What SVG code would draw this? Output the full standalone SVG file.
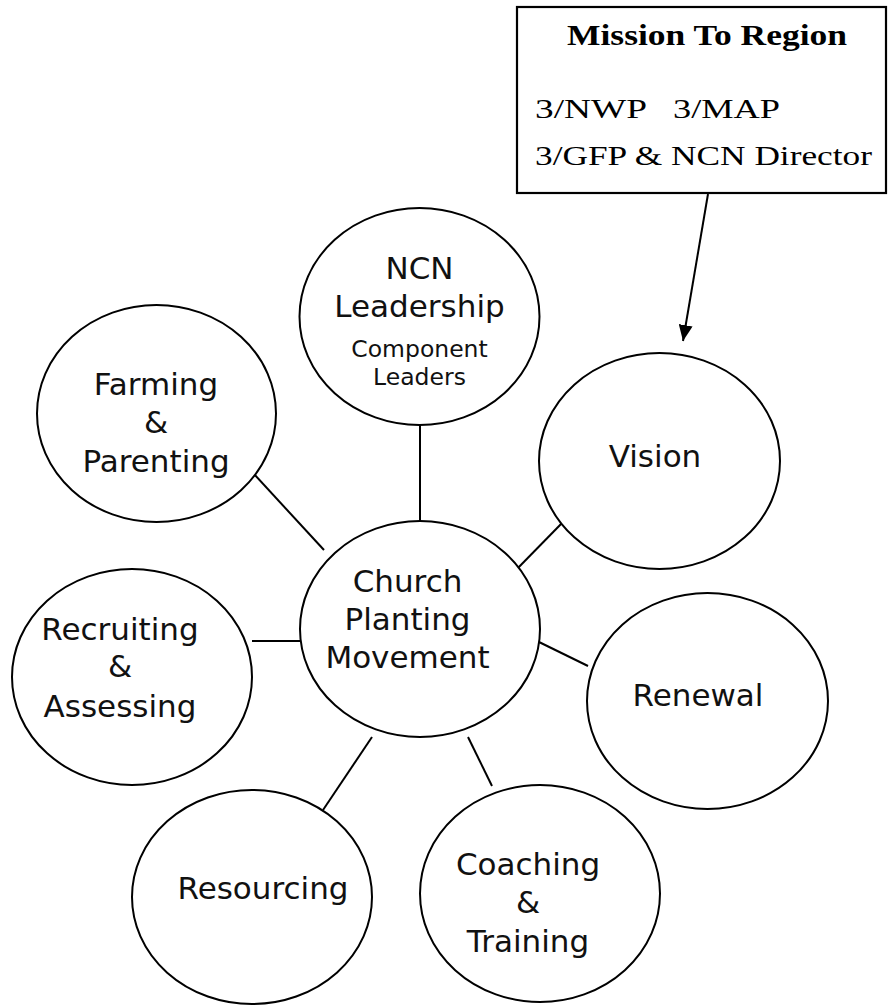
<svg xmlns="http://www.w3.org/2000/svg" width="888" height="1005" viewBox="0 0 888 1005">
<style>
.node{fill:#fff;stroke:#000;stroke-width:2}
.lbl{font-family:"DejaVu Sans","Liberation Sans",sans-serif;font-size:31px;fill:#111;text-anchor:middle}
.sm{font-size:23.5px}
.conn{stroke:#000;stroke-width:2;fill:none}
.ser{font-family:"Liberation Serif","Times New Roman",serif;fill:#000}
</style>
<defs>
<marker id="arrow" markerWidth="16" markerHeight="14" refX="16" refY="7" orient="auto" markerUnits="userSpaceOnUse">
<path d="M0,0 L16,7 L0,14 z" fill="#000"/>
</marker>
</defs>
<g id="mission">
<rect x="517" y="7" width="369" height="186" fill="#fff" stroke="#000" stroke-width="2.2"/>
<text class="ser" x="567" y="45" font-size="29" font-weight="bold" textLength="280" lengthAdjust="spacingAndGlyphs">Mission To Region</text>
<text class="ser" x="535" y="118" font-size="28" textLength="112" lengthAdjust="spacingAndGlyphs">3/NWP</text>
<text class="ser" x="673" y="118" font-size="28" textLength="107" lengthAdjust="spacingAndGlyphs">3/MAP</text>
<text class="ser" x="535" y="165" font-size="28" textLength="337" lengthAdjust="spacingAndGlyphs">3/GFP &amp; NCN Director</text>
</g>
<g id="connectors">
<line class="conn" x1="708" y1="194" x2="683" y2="341" marker-end="url(#arrow)"/>
<line class="conn" x1="420" y1="425" x2="420" y2="521"/>
<line class="conn" x1="253" y1="473" x2="324" y2="550"/>
<line class="conn" x1="516" y1="570" x2="563" y2="522"/>
<line class="conn" x1="539" y1="642" x2="588" y2="666"/>
<line class="conn" x1="252" y1="641" x2="300" y2="641"/>
<line class="conn" x1="372" y1="737" x2="323" y2="810"/>
<line class="conn" x1="468" y1="737" x2="492" y2="786"/>
</g>
<g id="ncn">
<ellipse class="node" cx="419.5" cy="316.5" rx="120" ry="108.5"/>
<text class="lbl" x="419.5" y="279">NCN</text>
<text class="lbl" x="419.5" y="317">Leadership</text>
<text class="lbl sm" x="419.5" y="357">Component</text>
<text class="lbl sm" x="419.5" y="385">Leaders</text>
</g>
<g id="farming">
<ellipse class="node" cx="156.5" cy="413.5" rx="119.5" ry="108.5"/>
<text class="lbl" x="156" y="395">Farming</text>
<text class="lbl" x="156" y="433">&amp;</text>
<text class="lbl" x="156" y="472">Parenting</text>
</g>
<g id="vision">
<ellipse class="node" cx="659.5" cy="461" rx="120.5" ry="108"/>
<text class="lbl" x="655" y="467">Vision</text>
</g>
<g id="center">
<ellipse class="node" cx="420" cy="629" rx="120" ry="108"/>
<text class="lbl" x="407.5" y="592">Church</text>
<text class="lbl" x="407.5" y="630">Planting</text>
<text class="lbl" x="407.5" y="668">Movement</text>
</g>
<g id="recruiting">
<ellipse class="node" cx="132" cy="677" rx="120" ry="108"/>
<text class="lbl" x="120" y="640">Recruiting</text>
<text class="lbl" x="120" y="677">&amp;</text>
<text class="lbl" x="120" y="717">Assessing</text>
</g>
<g id="renewal">
<ellipse class="node" cx="707.5" cy="701" rx="120.5" ry="108"/>
<text class="lbl" x="698" y="706">Renewal</text>
</g>
<g id="resourcing">
<ellipse class="node" cx="252" cy="897" rx="120" ry="107"/>
<text class="lbl" x="263" y="899">Resourcing</text>
</g>
<g id="coaching">
<ellipse class="node" cx="540" cy="893.5" rx="120" ry="108.5"/>
<text class="lbl" x="528" y="875">Coaching</text>
<text class="lbl" x="528" y="913">&amp;</text>
<text class="lbl" x="528" y="952">Training</text>
</g>
</svg>
